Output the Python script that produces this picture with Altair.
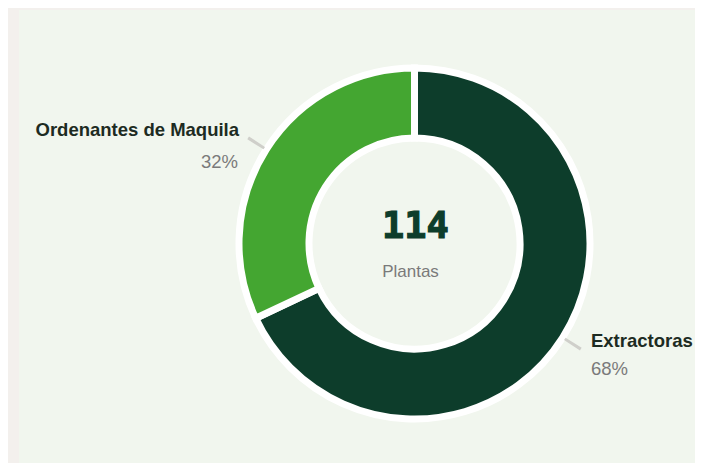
import math
import altair as alt
import pandas as pd

# ---- data ----
categories = ["Extractoras", "Ordenantes de Maquila"]
percents = [68, 32]
pct_labels = ["68%", "32%"]
total_plants = [114]
center_caption = ["Plantas"]

# ---- style ----
DARK = "#0d3d2b"
LIGHT = "#44a631"
PAGE_BG = "#f3f0ed"
PANEL_BG = "#f1f6ee"
LABEL_COLOR = "#1d2b22"
PCT_COLOR = "#7a7a7a"
LEADER = "#cfcfca"
FONT = "Liberation Sans"

W, H = 687, 455
CX, CY = 406.5, 235.5

df = pd.DataFrame({"name": categories, "pct": percents, "label": pct_labels,
                   "order": list(range(len(categories)))})
df["mid"] = df["pct"].cumsum() - df["pct"] / 2
df["lo"] = df["mid"] - 0.13
df["hi"] = df["mid"] + 0.13

theta_scale = alt.Scale(domain=[0, 100], range=[0, 2 * math.pi])
one = pd.DataFrame({"k": [0]})

panel = alt.Chart(one).mark_rect(color=PANEL_BG).encode(
    x=alt.value(11), x2=alt.value(W), y=alt.value(2), y2=alt.value(H)
)

arcs = alt.Chart(df).mark_arc(
    outerRadius=175.5, innerRadius=105.5, stroke="white", strokeWidth=7
).encode(
    theta=alt.Theta("pct:Q", stack=True, scale=theta_scale),
    color=alt.Color("name:N", scale=alt.Scale(domain=categories, range=[DARK, LIGHT]), legend=None),
    order=alt.Order("order:Q"),
    x=alt.value(CX), y=alt.value(CY),
)

leaders = alt.Chart(df).mark_arc(radius=178, radius2=197, color=LEADER).encode(
    theta=alt.Theta("lo:Q", stack=None, scale=theta_scale),
    theta2="hi:Q",
    x=alt.value(CX), y=alt.value(CY),
)


def label_layer(cat, field, align, dx, dy, bold, color):
    return alt.Chart(df).transform_filter(alt.datum.name == cat).mark_text(
        align=align, baseline="alphabetic", dx=dx, dy=dy, radius=200,
        font=FONT, fontSize=18.5, fontWeight="bold" if bold else "normal", color=color,
    ).encode(
        theta=alt.Theta("mid:Q", stack=None, scale=theta_scale),
        text=f"{field}:N",
        x=alt.value(CX), y=alt.value(CY),
    )


labels = [
    label_layer("Extractoras", "name", "left", 7.6, -3.7, True, LABEL_COLOR),
    label_layer("Extractoras", "label", "left", 7.6, 24.3, False, PCT_COLOR),
    label_layer("Ordenantes de Maquila", "name", "right", -6.6, -0.3, True, LABEL_COLOR),
    label_layer("Ordenantes de Maquila", "label", "right", -7.6, 31.7, False, PCT_COLOR),
]

total = alt.Chart(pd.DataFrame({"total": total_plants})).mark_text(
    font="DejaVu Sans Mono", fontWeight="bold", fontSize=37, color=DARK,
    stroke=DARK, strokeWidth=1.2,
    align="center", baseline="alphabetic", dx=0.8, dy=-5.8,
).encode(text="total:N", x=alt.value(CX), y=alt.value(CY))

caption = alt.Chart(pd.DataFrame({"cap": center_caption})).mark_text(
    font=FONT, fontSize=17, color=PCT_COLOR,
    align="center", baseline="alphabetic", dx=-4, dy=33.5,
).encode(text="cap:N", x=alt.value(CX), y=alt.value(CY))

chart = alt.layer(panel, arcs, leaders, *labels, total, caption).properties(
    width=W, height=H, background=PAGE_BG, padding=0, autosize="none"
).configure_view(strokeWidth=0)

chart.save("out.html", embed_options={"renderer": "svg", "actions": False})
